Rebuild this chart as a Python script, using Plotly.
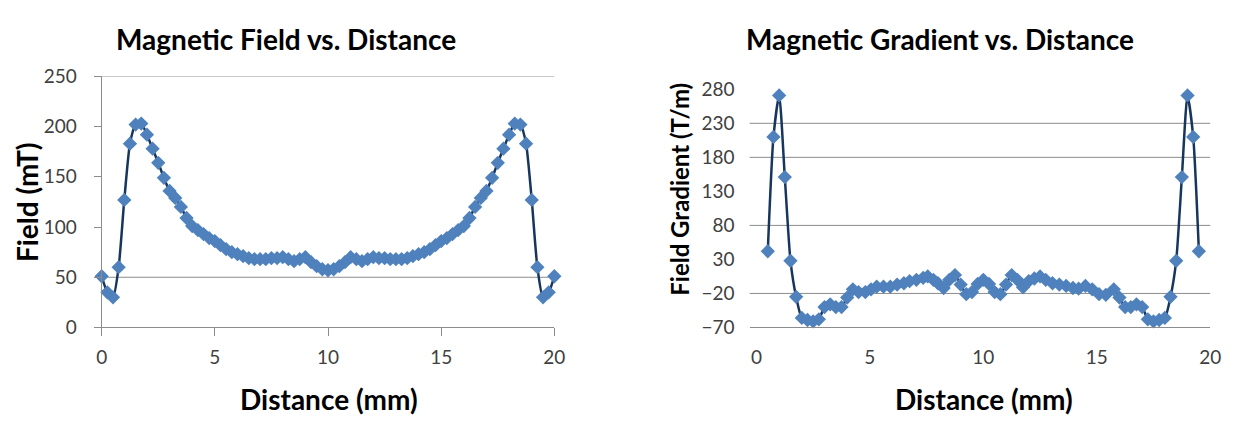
import plotly.graph_objects as go

# ---------------- data ----------------
DIST_FIELD = [0.0, 0.25, 0.5, 0.75, 1.0, 1.25, 1.5, 1.75, 2.0, 2.25, 2.5, 2.75, 3.0, 3.25, 3.5, 3.75,
              4.0, 4.25, 4.5, 4.75, 5.0, 5.25, 5.5, 5.75, 6.0, 6.25, 6.5, 6.75, 7.0, 7.25, 7.5, 7.75,
              8.0, 8.25, 8.5, 8.75, 9.0, 9.25, 9.5, 9.75, 10.0, 10.25, 10.5, 10.75, 11.0, 11.25, 11.5,
              11.75, 12.0, 12.25, 12.5, 12.75, 13.0, 13.25, 13.5, 13.75, 14.0, 14.25, 14.5, 14.75,
              15.0, 15.25, 15.5, 15.75, 16.0, 16.25, 16.5, 16.75, 17.0, 17.25, 17.5, 17.75, 18.0,
              18.25, 18.5, 18.75, 19.0, 19.25, 19.5, 19.75, 20.0]
FIELD_MT = [51, 35, 30, 60, 127, 183, 202, 203, 192, 178, 164, 149, 136, 129, 120, 109,
            101, 97, 93, 89, 86, 82, 78, 75, 73, 71, 69, 68, 68, 68, 69, 69,
            70, 68, 66, 68, 70, 65, 61, 58, 57, 58, 61, 65, 70, 68, 66,
            68, 70, 69, 69, 68, 68, 68, 69, 71, 73, 75, 78, 82,
            86, 89, 93, 97, 101, 109, 120, 129, 136, 149, 164, 178, 192,
            203, 202, 183, 127, 60, 30, 35, 51]

DIST_GRAD = [0.5, 0.75, 1.0, 1.25, 1.5, 1.75, 2.0, 2.25, 2.5, 2.75, 3.0, 3.25, 3.5, 3.75, 4.0,
             4.25, 4.5, 4.8, 5.05, 5.3, 5.6, 5.9, 6.2, 6.5, 6.75, 7.05, 7.35, 7.55, 7.8, 8.0,
             8.25, 8.5, 8.75, 9.0, 9.25, 9.5, 9.75, 10.0, 10.25, 10.5, 10.75, 11.0, 11.25, 11.5,
             11.75, 12.0, 12.25, 12.5, 12.75, 13.05, 13.35, 13.65, 13.95, 14.2, 14.5, 14.8, 15.1,
             15.4, 15.75, 16.0, 16.25, 16.5, 16.75, 17.0, 17.25, 17.5, 17.75, 18.0, 18.25, 18.5,
             18.75, 19.0, 19.25, 19.5]
GRAD_TM = [42, 210, 271, 151, 28, -25, -56, -59, -61, -58, -40, -36, -40, -40, -26,
           -14, -18, -18, -14, -10, -10, -10, -7, -5, -2, 0, 3, 5, 0, -5,
           -12, 0, 7, -7, -21, -18, -6, 0, -6, -18, -21, -7, 7, 0,
           -11, -2, 2, 5, 0, -5, -7, -9, -12, -13, -9, -14, -21,
           -22, -14, -26, -40, -40, -36, -40, -58, -61, -59, -56, -25, 28,
           151, 271, 210, 42]

X_TICKS = [0, 5, 10, 15, 20]
X_TICKS_RIGHT_MARKS = [5, 10, 15, 20]
Y_TICKS_LEFT = [0, 50, 100, 150, 200, 250]
Y_TICKS_RIGHT = [-70, -20, 30, 80, 130, 180, 230, 280]
GRID_LEFT = [50, 250]
GRID_RIGHT = [-20, 80, 180, 230]

TITLE_LEFT = "Magnetic Field vs. Distance"
TITLE_RIGHT = "Magnetic Gradient vs. Distance"
YTITLE_LEFT = "Field (mT)"
YTITLE_RIGHT = "Field Gradient (T/m)"
XTITLE = "Distance (mm)"

# ---------------- style ----------------
W, H = 1237, 437
LINE_C = "#17365D"
MARK_C = "#4F81BD"
AXIS_C = "#8C8C8C"
TICK_FONT = dict(family="Lato", size=19, color="#404040")
FONT = "Lato"


def px_x(p):
    return p / W


def px_y(p):
    return (H - p) / H


fig = go.Figure()
fig.add_trace(go.Scatter(
    x=DIST_FIELD, y=FIELD_MT, mode="lines+markers", xaxis="x", yaxis="y",
    line=dict(color=LINE_C, width=2.5, shape="spline", smoothing=0.6),
    marker=dict(symbol="diamond", size=11, color=MARK_C),
    showlegend=False, cliponaxis=False))
fig.add_trace(go.Scatter(
    x=DIST_GRAD, y=GRAD_TM, mode="lines+markers", xaxis="x2", yaxis="y2",
    line=dict(color=LINE_C, width=2.5, shape="spline", smoothing=0.6),
    marker=dict(symbol="diamond", size=11, color=MARK_C),
    showlegend=False, cliponaxis=False))

common_x = dict(showgrid=False, zeroline=False, tickfont=TICK_FONT, tickcolor=AXIS_C,
                linecolor=AXIS_C, linewidth=1, tickwidth=1)

fig.update_layout(
    width=W, height=H, autosize=False,
    margin=dict(l=0, r=0, t=0, b=0),
    paper_bgcolor="white", plot_bgcolor="white",
    xaxis=dict(domain=[px_x(97), px_x(556)], range=[0, 20], anchor="y",
               tickmode="array", tickvals=X_TICKS, ticks="outside", ticklen=8,
               showline=True, ticklabelstandoff=5, **common_x),
    yaxis=dict(domain=[px_y(333), px_y(68)], range=[0, 250], anchor="x",
               tickmode="array", tickvals=Y_TICKS_LEFT, ticks="outside", ticklen=7,
               showline=True, ticklabelstandoff=13, **common_x),
    xaxis2=dict(domain=[px_x(754), px_x(1221)], range=[-0.3, 20], anchor="y2",
                tickmode="array", tickvals=X_TICKS, ticks="",
                showline=True, ticklabelstandoff=13, **common_x),
    xaxis3=dict(overlaying="x2", range=[-0.3, 20], anchor="y2", side="bottom",
                tickmode="array", tickvals=X_TICKS_RIGHT_MARKS, ticks="outside", ticklen=8,
                showticklabels=False, showline=False, showgrid=False, zeroline=False,
                tickcolor=AXIS_C, tickwidth=1),
    yaxis2=dict(domain=[px_y(333), px_y(81.6)], range=[-70, 280], anchor="x2",
                tickmode="array", tickvals=Y_TICKS_RIGHT, ticks="",
                showline=False, ticklabelstandoff=14, **common_x),
)

for g in GRID_LEFT:
    fig.add_shape(type="line", xref="x domain", yref="y", x0=0, x1=1, y0=g, y1=g,
                  line=dict(color=AXIS_C, width=1), layer="below")
for g in GRID_RIGHT:
    fig.add_shape(type="line", xref="x2 domain", yref="y2", x0=0, x1=1, y0=g, y1=g,
                  line=dict(color=AXIS_C, width=1), layer="below")


def ann(text, x, y, size, angle=0):
    fig.add_annotation(text="<b>" + text + "</b>", xref="paper", yref="paper",
                       x=px_x(x), y=px_y(y), xanchor="center", yanchor="middle",
                       showarrow=False, font=dict(family=FONT, size=size, color="black"),
                       textangle=angle)


ann(TITLE_LEFT, 284, 29, 28)
ann(TITLE_RIGHT, 947, 29, 28)
ann(XTITLE, 327, 409, 28)
ann(XTITLE, 992, 409, 28)
ann(YTITLE_LEFT, 22, 201, 28, -90)
ann(YTITLE_RIGHT, 683, 187, 24, -90)

fig.write_html("out.html")
